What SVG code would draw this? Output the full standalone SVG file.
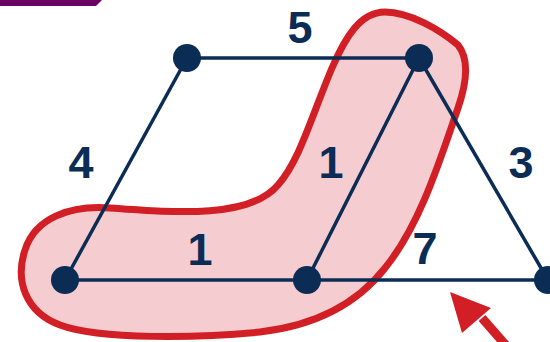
<svg xmlns="http://www.w3.org/2000/svg" width="550" height="342" viewBox="0 0 550 342">
<style>
.edge{stroke:#0b2c55;stroke-width:3.5;fill:none}
.node{fill:#0b2c55}
.lbl{font-family:"Liberation Sans",Arial,sans-serif;font-weight:bold;font-size:45px;fill:#0b2c55;text-anchor:middle}
</style>
<polygon points="0,0 102,0 96,6 0,6" fill="#6b0064"/>
<path id="highlight" d="M 385,12 C 410,12 440,30 458,45 C 470,60 466,85 458,108 C 440,160 420,225 385,268 C 360,300 320,325 260,332 C 200,338 100,340 60,325 C 25,312 15,280 25,250 C 35,218 70,205 110,208 C 180,213 250,218 278,185 C 300,160 312,115 332,68 C 345,38 360,12 385,12 Z" fill="#f5cdd0" stroke="#d21f26" stroke-width="7"/>
<g id="connectors">
<line class="edge" x1="187" y1="58" x2="419" y2="58"/>
<line class="edge" x1="187" y1="58" x2="65" y2="280"/>
<line class="edge" x1="419" y1="58" x2="307" y2="280"/>
<line class="edge" x1="419" y1="58" x2="548" y2="280"/>
<line class="edge" x1="65" y1="280" x2="548" y2="280"/>
</g>
<g id="n1"><circle class="node" cx="187" cy="58" r="14"/></g>
<g id="n2"><circle class="node" cx="419" cy="58" r="14"/></g>
<g id="n3"><circle class="node" cx="65" cy="280" r="14"/></g>
<g id="n4"><circle class="node" cx="307" cy="280" r="14"/></g>
<g id="n5"><circle class="node" cx="548" cy="280" r="14"/></g>
<g id="labels">
<text class="lbl" x="300" y="43">5</text>
<text class="lbl" x="81" y="178">4</text>
<text class="lbl" x="331" y="178">1</text>
<text class="lbl" x="521" y="178">3</text>
<text class="lbl" x="200" y="265">1</text>
<text class="lbl" x="425" y="264">7</text>
</g>
<g id="arrow">
<line x1="482" y1="318" x2="510" y2="350" stroke="#d21f26" stroke-width="9"/>
<polygon points="450,292 491,308 462,333" fill="#d21f26"/>
</g>
</svg>
